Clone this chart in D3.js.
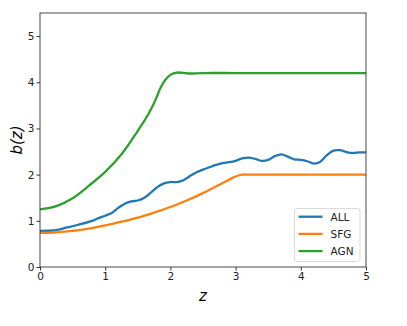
<!DOCTYPE html>
<html>
<head>
<meta charset="utf-8">
<script src="https://cdn.jsdelivr.net/npm/d3@7"></script>
<style>
  body { margin: 0; background: #fff; }
  text { font-family: "DejaVu Sans", sans-serif; }
</style>
</head>
<body>
<div id="chart"></div>
<script>
// b(z) values
const zAll = [0, 0.2, 0.4, 0.6, 0.8, 0.9, 1.0, 1.1, 1.2, 1.3, 1.4, 1.5, 1.6, 1.7, 1.8, 1.9, 2.0, 2.1, 2.2, 2.3, 2.4, 2.5, 2.6, 2.7, 2.8, 2.9, 3.0, 3.1, 3.2, 3.3, 3.4, 3.5, 3.6, 3.7, 3.8, 3.9, 4.0, 4.1, 4.2, 4.3, 4.4, 4.5, 4.6, 4.7, 4.8, 4.9, 5.0];
const bAll = [0.78, 0.79, 0.85, 0.92, 1.0, 1.06, 1.11, 1.17, 1.28, 1.37, 1.42, 1.44, 1.5, 1.61, 1.73, 1.81, 1.84, 1.84, 1.88, 1.97, 2.05, 2.11, 2.16, 2.21, 2.25, 2.27, 2.3, 2.35, 2.37, 2.34, 2.30, 2.32, 2.4, 2.44, 2.39, 2.33, 2.32, 2.29, 2.24, 2.28, 2.42, 2.52, 2.53, 2.49, 2.47, 2.48, 2.48];

const zSfg = [0, 0.25, 0.5, 0.75, 1.0, 1.25, 1.5, 1.75, 2.0, 2.25, 2.5, 2.75, 2.9, 3.0, 3.1, 3.2, 3.5, 4.0, 4.5, 5.0];
const bSfg = [0.74, 0.75, 0.78, 0.83, 0.9, 0.98, 1.07, 1.18, 1.3, 1.44, 1.6, 1.78, 1.89, 1.96, 2.0, 2.0, 2.0, 2.0, 2.0, 2.0];

const zAgn = [0, 0.25, 0.5, 0.75, 1.0, 1.25, 1.5, 1.65, 1.75, 1.85, 1.92, 2.0, 2.1, 2.28, 2.5, 3.0, 3.5, 4.0, 4.5, 5.0];
const bAgn = [1.25, 1.32, 1.49, 1.76, 2.06, 2.44, 2.95, 3.28, 3.55, 3.88, 4.05, 4.16, 4.21, 4.19, 4.2, 4.2, 4.2, 4.2, 4.2, 4.2];

const seriesNames = ["ALL", "SFG", "AGN"];
const colors = ["#1f77b4", "#ff7f0e", "#2ca02c"];
const xTicks = [0, 1, 2, 3, 4, 5];
const yTicks = [0, 1, 2, 3, 4, 5];

const width = 407, height = 326;
const plotLeft = 40, plotRight = 366, plotTop = 13, plotBottom = 267;

const svg = d3.select("#chart").append("svg")
  .attr("width", width)
  .attr("height", height);

const x = d3.scaleLinear().domain([0, 5]).range([plotLeft, plotRight]);
const y = d3.scaleLinear().domain([0, 5.5]).range([plotBottom, plotTop]);

const series = [
  { name: seriesNames[0], z: zAll, b: bAll },
  { name: seriesNames[1], z: zSfg, b: bSfg },
  { name: seriesNames[2], z: zAgn, b: bAgn }
];

const line = d3.line()
  .x(d => x(d[0]))
  .y(d => y(d[1]))
  .curve(d3.curveCatmullRom.alpha(0.5));

svg.append("g").selectAll("path")
  .data(series)
  .enter()
  .append("path")
  .attr("fill", "none")
  .attr("stroke", (d, i) => colors[i])
  .attr("stroke-width", 2.3)
  .attr("d", d => line(d.z.map((z, i) => [z, d.b[i]])));

// frame
svg.append("rect")
  .attr("x", plotLeft)
  .attr("y", plotTop)
  .attr("width", plotRight - plotLeft)
  .attr("height", plotBottom - plotTop)
  .attr("fill", "none")
  .attr("stroke", "#333")
  .attr("stroke-width", 0.9);

const xAxis = svg.append("g")
  .attr("transform", `translate(0,${plotBottom})`)
  .call(d3.axisBottom(x).tickValues(xTicks).tickFormat(d3.format("d")).tickSize(3.5).tickPadding(2));

const yAxis = svg.append("g")
  .attr("transform", `translate(${plotLeft},0)`)
  .call(d3.axisLeft(y).tickValues(yTicks).tickFormat(d3.format("d")).tickSize(3.5).tickPadding(2));

[xAxis, yAxis].forEach(g => {
  g.select(".domain").remove();
  g.selectAll("line").attr("stroke", "#333");
  g.selectAll("text").attr("font-size", 10.5).attr("fill", "#222")
    .attr("font-family", "DejaVu Sans, sans-serif");
});

svg.append("text")
  .attr("x", (plotLeft + plotRight) / 2)
  .attr("y", 301)
  .attr("text-anchor", "middle")
  .attr("font-size", 15)
  .attr("font-style", "italic")
  .text("z");

svg.append("text")
  .attr("transform", `translate(22,${(plotTop + plotBottom) / 2}) rotate(-90)`)
  .attr("text-anchor", "middle")
  .attr("font-size", 15)
  .attr("font-style", "italic")
  .text("b(z)");

// legend
const legend = svg.append("g");
legend.append("rect")
  .attr("x", 294.5)
  .attr("y", 208.5)
  .attr("width", 65.5)
  .attr("height", 53)
  .attr("rx", 2.5)
  .attr("fill", "#fff")
  .attr("fill-opacity", 0.8)
  .attr("stroke", "#d6d6d6")
  .attr("stroke-width", 0.9);

const rows = legend.selectAll("g.row")
  .data(seriesNames)
  .enter()
  .append("g")
  .attr("class", "row")
  .attr("transform", (d, i) => `translate(0,${216.7 + i * 17.2})`);

rows.append("line")
  .attr("x1", 298.5)
  .attr("x2", 322.5)
  .attr("stroke", (d, i) => colors[i])
  .attr("stroke-width", 2.3);

rows.append("text")
  .attr("x", 330.5)
  .attr("y", 4)
  .attr("font-size", 10.5)
  .attr("fill", "#222")
  .text(d => d);
</script>
</body>
</html>
